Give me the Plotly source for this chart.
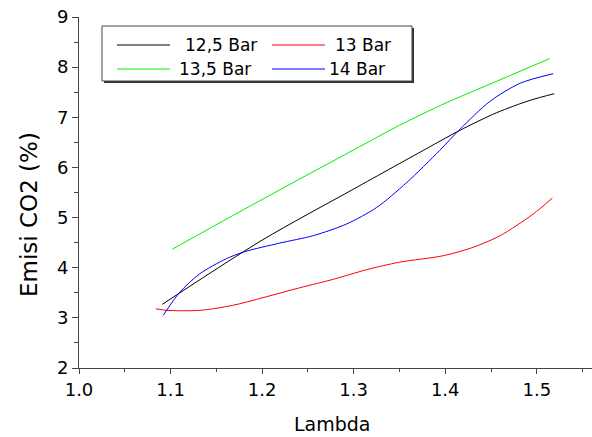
import plotly.graph_objects as go

# Data
x_125 = [1.091, 1.20, 1.30, 1.383, 1.416, 1.456, 1.493, 1.519]
y_125 = [3.27, 4.55, 5.57, 6.41, 6.74, 7.09, 7.34, 7.47]

x_13 = [1.084, 1.096, 1.132, 1.168, 1.241, 1.278, 1.314, 1.35, 1.398, 1.431, 1.46, 1.496, 1.517]
y_13 = [3.18, 3.15, 3.15, 3.25, 3.60, 3.77, 3.96, 4.11, 4.24, 4.41, 4.64, 5.07, 5.39]

x_135 = [1.102, 1.168, 1.219, 1.30, 1.35, 1.40, 1.45, 1.514]
y_135 = [4.37, 5.04, 5.55, 6.35, 6.84, 7.28, 7.67, 8.17]

x_14 = [1.092, 1.11, 1.132, 1.161, 1.181, 1.219, 1.256, 1.292, 1.325, 1.358, 1.394, 1.416, 1.449, 1.482, 1.518]
y_14 = [3.05, 3.51, 3.88, 4.18, 4.32, 4.49, 4.64, 4.87, 5.20, 5.70, 6.34, 6.76, 7.32, 7.68, 7.87]

names = ["12,5 Bar", "13 Bar", "13,5 Bar", "14 Bar"]
colors = ["#000000", "#ff0000", "#00ee00", "#0000ff"]
series = [(x_125, y_125), (x_13, y_13), (x_135, y_135), (x_14, y_14)]

x_ticks = [1.0, 1.1, 1.2, 1.3, 1.4, 1.5]
x_ticklabels = ["1.0", "1.1", "1.2", "1.3", "1.4", "1.5"]
y_ticks = [2, 3, 4, 5, 6, 7, 8, 9]

FONT = "DejaVu Sans, Liberation Sans, Arial, sans-serif"

W, H = 592, 437
ML, MR, MT, MB = 79, 0, 17, 69
PW, PH = W - ML - MR, H - MT - MB


def px(xp):
    return (xp - ML) / PW


def py(yp):
    return (H - MB - yp) / PH


fig = go.Figure()
for (xs, ys), n, c in zip(series, names, colors):
    fig.add_trace(go.Scatter(x=xs, y=ys, name=n, mode="lines", showlegend=False,
                             line=dict(color=c, width=1, shape="spline", smoothing=0.8)))

# Legend drawn as a framed box (two columns, two rows)
shapes = [
    dict(type="rect", xref="paper", yref="paper", x0=px(104), x1=px(414), y0=py(28), y1=py(83),
         fillcolor="#333333", line=dict(width=0), layer="above"),
    dict(type="rect", xref="paper", yref="paper", x0=px(102), x1=px(412), y0=py(26), y1=py(81),
         fillcolor="white", line=dict(color="#444444", width=1), layer="above"),
]
annotations = []
leg_pos = [(117, 45, 183), (272, 45, 333), (117, 69, 177), (272, 69, 327)]
for (lx, ly, tx), n, c in zip(leg_pos, names, colors):
    shapes.append(dict(type="line", xref="paper", yref="paper", x0=px(lx), x1=px(lx + 53),
                       y0=py(ly), y1=py(ly), line=dict(color=c, width=1), layer="above"))
    annotations.append(dict(text=n, xref="paper", yref="paper", x=px(tx), y=py(ly),
                            xanchor="left", yanchor="middle", showarrow=False,
                            font=dict(family=FONT, size=17, color="black")))

annotations += [
    dict(text="Lambda", xref="paper", yref="paper", x=px(332), y=py(424),
         xanchor="center", yanchor="middle", showarrow=False,
         font=dict(family=FONT, size=19, color="black")),
    dict(text="Emisi CO2 (%)", xref="paper", yref="paper", x=px(29), y=py(215),
         xanchor="center", yanchor="middle", textangle=-90, showarrow=False,
         font=dict(family=FONT, size=23, color="black")),
]

fig.update_layout(
    width=W, height=H,
    margin=dict(l=ML, r=MR, t=MT, b=MB),
    paper_bgcolor="white", plot_bgcolor="white",
    font=dict(family=FONT, size=17, color="black"),
    showlegend=False,
    xaxis=dict(
        range=[1.0, 1.5603], tickvals=x_ticks, ticktext=x_ticklabels,
        showgrid=False, zeroline=False, showline=True, linecolor="#444444", linewidth=1,
        ticks="outside", ticklen=5, tickcolor="#444444",
        minor=dict(ticks="outside", ticklen=3, dtick=0.05, tickcolor="#444444", showgrid=False),
        tickfont=dict(family=FONT, size=18, color="black"),
        fixedrange=True,
    ),
    yaxis=dict(
        range=[2, 9], tickvals=y_ticks,
        showgrid=False, zeroline=False, showline=True, linecolor="#444444", linewidth=1,
        ticks="outside", ticklen=6, tickcolor="#444444",
        minor=dict(ticks="outside", ticklen=4, dtick=0.5, tickcolor="#444444", showgrid=False),
        tickfont=dict(family=FONT, size=18, color="black"),
        fixedrange=True,
    ),
    shapes=shapes,
    annotations=annotations,
)

fig.write_html("out.html")
